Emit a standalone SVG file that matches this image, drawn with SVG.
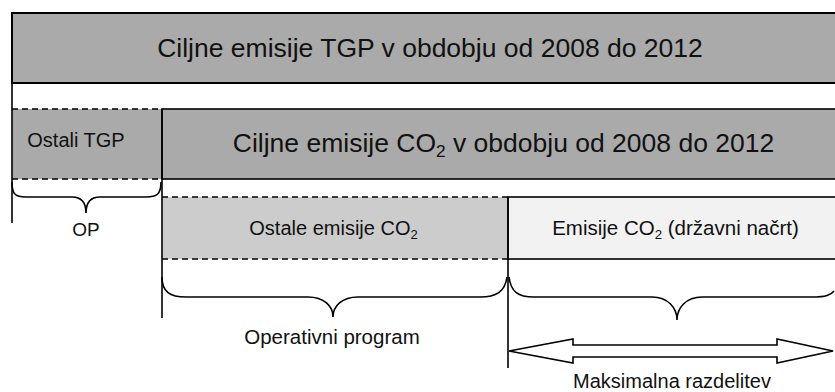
<svg xmlns="http://www.w3.org/2000/svg" width="835" height="392" viewBox="0 0 835 392">
<style>
text{font-family:"Liberation Sans",Arial,sans-serif;fill:#111;text-anchor:middle}
.ln{stroke:#000;stroke-width:1.6;fill:none}
.dash{stroke:#000;stroke-width:1.6;stroke-dasharray:6,4;fill:none}
.sub{font-size:0.65em}
</style>
<rect width="835" height="392" fill="#fff"/>
<g id="top">
<rect x="12" y="13" width="830" height="70" fill="#aaaaaa" stroke="#000" stroke-width="2"/>
<text x="430" y="57" font-size="26.5">Ciljne emisije TGP v obdobju od 2008 do 2012</text>
</g>
<g id="ostali-tgp">
<rect x="12" y="109" width="150" height="70" fill="#aaaaaa"/>
<line class="dash" x1="12" y1="109" x2="162" y2="109"/>
<line class="dash" x1="12" y1="179" x2="162" y2="179"/>
<text x="76" y="147" font-size="20">Ostali TGP</text>
</g>
<g id="co2-target">
<rect x="162" y="109" width="680" height="70" fill="#aaaaaa" stroke="#000" stroke-width="1.6"/>
<text x="503.5" y="152" font-size="26.5">Ciljne emisije CO<tspan class="sub" dy="5">2</tspan><tspan dy="-5"> v obdobju od 2008 do 2012</tspan></text>
</g>
<g id="ostale-co2">
<rect x="162" y="197" width="346" height="62" fill="#cccccc"/>
<line class="dash" x1="162" y1="197" x2="508" y2="197"/>
<line class="dash" x1="162" y1="259" x2="508" y2="259"/>
<text x="333.5" y="235" font-size="20">Ostale emisije CO<tspan class="sub" dy="4">2</tspan></text>
</g>
<g id="emisije-co2">
<rect x="508" y="197" width="340" height="62" fill="#f2f2f2" stroke="#000" stroke-width="1.6"/>
<text x="675.5" y="235" font-size="20.5">Emisije CO<tspan class="sub" dy="4">2</tspan><tspan dy="-4"> (državni načrt)</tspan></text>
</g>
<g id="connectors">
<line class="ln" x1="12" y1="12" x2="12" y2="223"/>
<line class="ln" x1="162" y1="109" x2="162" y2="318"/>
<line class="ln" x1="508" y1="197" x2="508" y2="368" stroke-width="2"/>
<path class="ln" d="M12,182 C12,194 15,197 26,197 L72,197 C82,197 86,203 86,213 C86,203 90,197 100,197 L146,197 C157,197 161,194 161,182"/>
<path class="ln" d="M162,277 C162,292 170,297 186,297 L308,297 C324,297 333,306 333,317 C333,306 342,297 358,297 L480,297 C496,297 505,292 507,277"/>
<path class="ln" d="M509,277 C511,292 518,297 534,297 L652,297 C668,297 677,308 677,320 C677,308 686,297 702,297 L812,297 C826,297 831,295 834,291"/>
<polygon points="509,351 573,339 573,345 777,345 777,339 833,351 777,363 777,357 573,357 573,363" fill="#fff" stroke="#000" stroke-width="1.6" stroke-linejoin="miter"/>
</g>
<g id="labels">
<text x="86" y="236" font-size="19">OP</text>
<text x="332" y="344" font-size="20.5">Operativni program</text>
<text x="672" y="388" font-size="20">Maksimalna razdelitev</text>
</g>
</svg>
